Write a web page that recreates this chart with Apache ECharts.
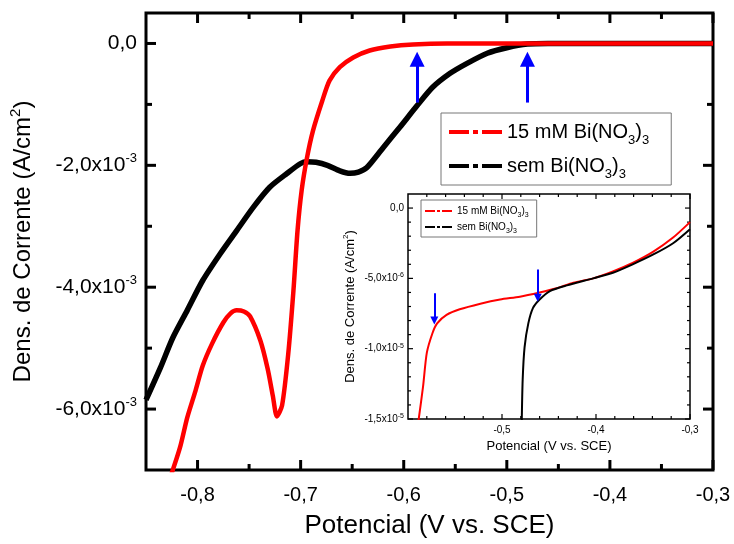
<!DOCTYPE html>
<html>
<head>
<meta charset="utf-8">
<title>Voltametria Bi(NO3)3</title>
<script src="https://cdn.jsdelivr.net/npm/echarts@6/dist/echarts.min.js"></script>
<style>
  html, body { margin: 0; padding: 0; background: #fff; }
  #main { width: 734px; height: 544px; }
</style>
</head>
<body>
<div id="main"></div>
<script>
// grafico principal: corrente em 1e-3 A/cm2 ; inserto: corrente em 1e-6 A/cm2
var nameRed = '15 mM Bi(NO3)3';
var nameBlack = 'sem Bi(NO3)3';

var potRed = [-0.826, -0.817, -0.810, -0.802, -0.795, -0.786, -0.775, -0.768, -0.762, -0.755,
  -0.749, -0.739, -0.732, -0.727, -0.723, -0.718, -0.712, -0.707, -0.703, -0.699,
  -0.694, -0.688, -0.679, -0.672, -0.662, -0.649, -0.633, -0.613, -0.591, -0.558, -0.300];
var curRed = [-7.10, -6.63, -6.14, -5.70, -5.29, -4.93, -4.58, -4.43, -4.38, -4.40,
  -4.48, -4.88, -5.34, -5.78, -6.12, -5.94, -5.09, -4.06, -3.07, -2.41,
  -1.89, -1.43, -0.94, -0.61, -0.39, -0.23, -0.115, -0.05, -0.016, 0, 0];

var potBlack = [-0.850, -0.836, -0.824, -0.810, -0.795, -0.778, -0.762, -0.746, -0.730, -0.713,
  -0.700, -0.694, -0.685, -0.674, -0.662, -0.652, -0.644, -0.636, -0.620, -0.604,
  -0.587, -0.572, -0.555, -0.539, -0.519, -0.500, -0.480, -0.460, -0.300];
var curBlack = [-5.85, -5.32, -4.83, -4.38, -3.89, -3.45, -3.07, -2.69, -2.36, -2.13,
  -1.97, -1.94, -1.95, -2.00, -2.09, -2.13, -2.11, -2.04, -1.71, -1.38,
  -1.02, -0.72, -0.49, -0.33, -0.16, -0.07, -0.01, 0, 0];

var potRedIn = [-0.589, -0.584, -0.580, -0.574, -0.569, -0.559, -0.545, -0.523, -0.502, -0.481,
  -0.460, -0.442, -0.424, -0.403, -0.382, -0.361, -0.339, -0.318, -0.300];
var curRedIn = [-15.2, -12.7, -10.3, -8.9, -8.2, -7.6, -7.2, -6.8, -6.5, -6.3,
  -6.0, -5.7, -5.3, -5.0, -4.5, -3.9, -3.1, -2.1, -1.0];

var potBlackIn = [-0.479, -0.478, -0.476, -0.472, -0.467, -0.460, -0.449, -0.431, -0.403, -0.382,
  -0.361, -0.339, -0.318, -0.300];
var curBlackIn = [-15.2, -12.2, -9.9, -8.2, -7.1, -6.5, -5.9, -5.5, -5.0, -4.6,
  -4.0, -3.3, -2.5, -1.5];

// setas azuis (inicio e fim em coordenadas dos dados)
var arrowPot = [-0.587, -0.480];
var arrowFrom = [-0.97, -0.97];
var arrowTo = [-0.26, -0.26];
var arrowPotIn = [-0.572, -0.462];
var arrowFromIn = [-6.06, -4.36];
var arrowToIn = [-8.0, -6.38];

// ticks e rotulos
var xTicks = [-0.8, -0.7, -0.6, -0.5, -0.4, -0.3];
var xLabels = ['-0,8', '-0,7', '-0,6', '-0,5', '-0,4', '-0,3'];
var xMinor = [-0.75, -0.65, -0.55, -0.45, -0.35];
var yTicks = [-6, -4, -2, 0];
var yLabels = ['-6,0x10^-3', '-4,0x10^-3', '-2,0x10^-3', '0,0'];
var yMinor = [-5, -3, -1];
var xTicksIn = [-0.5, -0.4, -0.3];
var xLabelsIn = ['-0,5', '-0,4', '-0,3'];
var xMinorIn = [-0.58, -0.56, -0.54, -0.52, -0.48, -0.46, -0.44, -0.42, -0.38, -0.36, -0.34, -0.32];
var yTicksIn = [-15, -10, -5, 0];
var yLabelsIn = ['-1,5x10^-5', '-1,0x10^-5', '-5,0x10^-6', '0,0'];
var yMinorIn = [-14, -13, -12, -11, -9, -8, -7, -6, -4, -3, -2, -1];

var FONT = "'Liberation Sans', Arial, sans-serif";

function zip(a, b) {
  return a.map(function (v, i) { return [v, b[i]]; });
}

function labelFn(ticks, labels) {
  return function (v) {
    for (var i = 0; i < ticks.length; i++) {
      if (Math.abs(ticks[i] - v) < 1e-6) return labels[i].replace(/\^(.+)$/, '{sup|$1}');
    }
    return '';
  };
}

// dados dos ticks: [0 = eixo x / 1 = eixo y, valor, comprimento em px]
function tickData(xMaj, xMin, yMaj, yMin, lMaj, lMin) {
  var d = [];
  xMaj.forEach(function (v) { d.push([0, v, lMaj]); });
  xMin.forEach(function (v) { d.push([0, v, lMin]); });
  yMaj.forEach(function (v) { d.push([1, v, lMaj]); });
  yMin.forEach(function (v) { d.push([1, v, lMin]); });
  return d;
}

// ticks para dentro nos quatro lados do grid (posicao vinda da escala do eixo)
function tickRenderer(w) {
  return function (params, api) {
    var cs = params.coordSys;
    var v = api.value(1), len = api.value(2);
    var st = { stroke: '#000', lineWidth: w };
    if (api.value(0) === 0) {
      var x = api.coord([v, 0])[0];
      return { type: 'group', children: [
        { type: 'line', shape: { x1: x, y1: cs.y + cs.height, x2: x, y2: cs.y + cs.height - len }, style: st },
        { type: 'line', shape: { x1: x, y1: cs.y, x2: x, y2: cs.y + len }, style: st }
      ] };
    }
    var y = api.coord([-0.5, v])[1];
    return { type: 'group', children: [
      { type: 'line', shape: { x1: cs.x, y1: y, x2: cs.x + len, y2: y }, style: st },
      { type: 'line', shape: { x1: cs.x + cs.width, y1: y, x2: cs.x + cs.width - len, y2: y }, style: st }
    ] };
  };
}

function baseAxis(grid, pos, range) {
  return {
    type: 'value', gridIndex: grid, position: pos, min: range[0], max: range[1],
    axisLine: { show: false, onZero: false }, splitLine: { show: false },
    axisTick: { show: false }
  };
}

var mainX = [-0.85, -0.3], mainY = [-7, 0.5];
var inX = [-0.6, -0.3], inY = [-15, 1];

var xBottom = baseAxis(0, 'bottom', mainX);
xBottom.axisLabel = { show: true, customValues: xTicks, formatter: labelFn(xTicks, xLabels),
  fontSize: 20, fontFamily: FONT, color: '#000', margin: 15 };
xBottom.name = 'Potencial (V vs. SCE)';
xBottom.nameLocation = 'middle';
xBottom.nameGap = 43;
xBottom.nameTextStyle = { fontSize: 26, fontFamily: FONT, color: '#000' };

var yLeft = baseAxis(0, 'left', mainY);
yLeft.axisLabel = { show: true, customValues: yTicks, formatter: labelFn(yTicks, yLabels),
  fontSize: 21, fontFamily: FONT, color: '#000', margin: 9, lineHeight: 26,
  rich: { sup: { fontSize: 13, lineHeight: 13, verticalAlign: 'top', fontFamily: FONT, color: '#000' } } };
yLeft.name = 'Dens. de Corrente (A/cm{sup|2})';
yLeft.nameLocation = 'middle';
yLeft.nameGap = 108;
yLeft.nameTextStyle = { fontSize: 24, fontFamily: FONT, color: '#000', lineHeight: 30,
  rich: { sup: { fontSize: 15, lineHeight: 15, verticalAlign: 'top', fontFamily: FONT, color: '#000' } } };

var xBottomIn = baseAxis(1, 'bottom', inX);
xBottomIn.axisLabel = { show: true, customValues: xTicksIn, formatter: labelFn(xTicksIn, xLabelsIn),
  fontSize: 10, fontFamily: FONT, color: '#000', margin: 6 };
xBottomIn.name = 'Potencial (V vs. SCE)';
xBottomIn.nameLocation = 'middle';
xBottomIn.nameGap = 21;
xBottomIn.nameTextStyle = { fontSize: 13, fontFamily: FONT, color: '#000' };

var yLeftIn = baseAxis(1, 'left', inY);
yLeftIn.axisLabel = { show: true, customValues: yTicksIn, formatter: labelFn(yTicksIn, yLabelsIn),
  fontSize: 10, fontFamily: FONT, color: '#000', margin: 4, lineHeight: 13,
  rich: { sup: { fontSize: 7, lineHeight: 7, verticalAlign: 'top', fontFamily: FONT, color: '#000' } } };
yLeftIn.name = 'Dens. de Corrente (A/cm{sup|2})';
yLeftIn.nameLocation = 'middle';
yLeftIn.nameGap = 50;
yLeftIn.nameTextStyle = { fontSize: 13, fontFamily: FONT, color: '#000', lineHeight: 16,
  rich: { sup: { fontSize: 8, lineHeight: 8, verticalAlign: 'top', fontFamily: FONT, color: '#000' } } };

function legendText(name) {
  return name.replace(/NO3\)3/, 'NO{s|3}){s|3}');
}

var lineOpts = { showSymbol: false, smooth: 0.25 };

var option = {
  animation: false,
  grid: [
    { left: 146, top: 13, width: 567, height: 457, show: true, borderColor: '#000', borderWidth: 3 },
    { left: 408, top: 194, width: 282, height: 225, show: true, borderColor: '#000', borderWidth: 1.5 }
  ],
  xAxis: [xBottom, xBottomIn],
  yAxis: [yLeft, yLeftIn],
  legend: [
    {
      data: [nameRed, nameBlack], orient: 'vertical', left: 441, top: 113,
      selectedMode: false, borderColor: '#777', borderWidth: 1, padding: [4, 22, 4, 8],
      itemGap: 4, itemWidth: 53, itemHeight: 4,
      icon: 'path://M0,0h20v4h-20z M24,0h5v4h-5z M33,0h20v4h-20z',
      formatter: legendText,
      textStyle: { fontSize: 20, fontFamily: FONT, color: '#000', lineHeight: 30,
        rich: { s: { fontSize: 13, lineHeight: 13, verticalAlign: 'bottom', fontFamily: FONT, color: '#000' } } }
    },
    {
      data: [nameRed, nameBlack], orient: 'vertical', left: 421, top: 200,
      selectedMode: false, borderColor: '#777', borderWidth: 1, padding: [3, 8, 2, 4],
      itemGap: 0, itemWidth: 27, itemHeight: 2,
      icon: 'path://M0,0h10v2h-10z M12,0h3v2h-3z M17,0h10v2h-10z',
      formatter: legendText,
      textStyle: { fontSize: 10, fontFamily: FONT, color: '#000', lineHeight: 16,
        rich: { s: { fontSize: 7, lineHeight: 7, verticalAlign: 'bottom', fontFamily: FONT, color: '#000' } } }
    }
  ],
  series: [
    Object.assign({
      name: nameBlack, type: 'line', xAxisIndex: 0, yAxisIndex: 0,
      data: zip(potBlack, curBlack),
      itemStyle: { color: '#000' }, lineStyle: { color: '#000', width: 5.5 },
      markLine: {
        silent: true, symbol: ['none', 'triangle'], symbolSize: 15,
        label: { show: false }, lineStyle: { color: '#0000ff', width: 3, type: 'solid' },
        data: arrowPot.map(function (x, i) {
          return [{ coord: [x, arrowFrom[i]] }, { coord: [x, arrowTo[i]] }];
        })
      }
    }, lineOpts),
    Object.assign({
      name: nameRed, type: 'line', xAxisIndex: 0, yAxisIndex: 0,
      data: zip(potRed, curRed),
      itemStyle: { color: '#ff0000' }, lineStyle: { color: '#ff0000', width: 4.5 }
    }, lineOpts),
    Object.assign({
      name: nameRed, type: 'line', xAxisIndex: 1, yAxisIndex: 1,
      data: zip(potRedIn, curRedIn),
      itemStyle: { color: '#ff0000' }, lineStyle: { color: '#ff0000', width: 2 },
      markLine: {
        silent: true, symbol: ['none', 'triangle'], symbolSize: 8,
        label: { show: false }, lineStyle: { color: '#0000ff', width: 2, type: 'solid' },
        data: arrowPotIn.map(function (x, i) {
          return [{ coord: [x, arrowFromIn[i]] }, { coord: [x, arrowToIn[i]] }];
        })
      }
    }, lineOpts),
    Object.assign({
      name: nameBlack, type: 'line', xAxisIndex: 1, yAxisIndex: 1,
      data: zip(potBlackIn, curBlackIn),
      itemStyle: { color: '#000' }, lineStyle: { color: '#000', width: 2 }
    }, lineOpts),
    {
      name: 'ticks', type: 'custom', xAxisIndex: 0, yAxisIndex: 0, silent: true, z: 3,
      renderItem: tickRenderer(3),
      data: tickData(xTicks, xMinor, yTicks, yMinor, 10, 6)
    },
    {
      name: 'ticksIn', type: 'custom', xAxisIndex: 1, yAxisIndex: 1, silent: true, z: 3,
      renderItem: tickRenderer(1.2),
      data: tickData(xTicksIn, xMinorIn, yTicksIn, yMinorIn, 5, 3)
    }
  ]
};

var myChart = echarts.init(document.getElementById('main'));
myChart.setOption(option);
</script>
</body>
</html>
